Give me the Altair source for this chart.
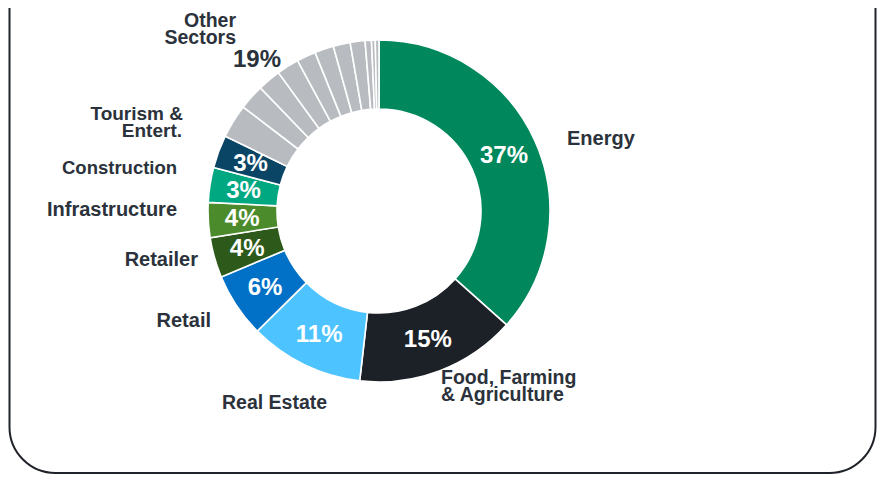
import altair as alt
import pandas as pd

# ---- data ----
categories = [
    "Energy", "Food, Farming & Agriculture", "Real Estate", "Retail", "Retailer",
    "Infrastructure", "Construction", "Tourism & Entert.",
    "Other 1", "Other 2", "Other 3", "Other 4", "Other 5", "Other 6",
    "Other 7", "Other 8", "Other 9", "Other 10", "Other 11",
]
shares = [36.6, 15.2, 10.8, 6.1, 3.8, 3.3, 3.3, 3.1,
          3.2, 2.4, 2.2, 2.1, 1.8, 1.8, 1.6, 1.4, 0.6, 0.35, 0.35]
pct_labels = ["37%", "15%", "11%", "6%", "4%", "4%", "3%", "3%",
              "", "", "", "", "", "", "", "", "", "", ""]
colors = ["#00875B", "#1C2128", "#4DC3FF", "#0071C6", "#2D5A1B",
          "#4B8B2B", "#00A882", "#0B4566"] + ["#B8BCC1"] * 11

# outer label texts (one row per text line)
label_texts = ["Other", "Sectors", "19%", "Energy", "Food, Farming", "& Agriculture",
               "Real Estate", "Retail", "Retailer", "Infrastructure", "Construction",
               "Tourism &", "Entert."]

# ---- layout (page pixels) ----
label_x = [236, 236, 257, 567, 441, 441, 222, 211, 198, 47, 62, 183, 182]
label_y = [27, 44, 67, 145, 384, 401, 409, 327, 266, 216, 174, 120, 137]
label_align = ["right", "right", "center", "left", "left", "left", "left",
               "right", "right", "left", "left", "right", "right"]
label_size = [19.5, 19.5, 24, 20, 19.5, 19.5, 19.5, 20, 20, 20, 18.5, 19, 19]

M = 8  # page margin
CX, CY = 379 - M, 211 - M
W, H = 869, 467
FONT = "Liberation Sans, Arial, sans-serif"
TXT = "#2B323B"

df = pd.DataFrame({
    "category": categories,
    "share": shares,
    "pct": pct_labels,
    "idx": list(range(len(categories))),
})

base = alt.Chart(df).encode(
    theta=alt.Theta("share:Q", stack=True),
    order=alt.Order("idx:Q"),
    x=alt.value(CX),
    y=alt.value(CY),
)

ring = base.mark_arc(radius=171, radius2=102, stroke="white", strokeWidth=1.6).encode(
    color=alt.Color("category:N", scale=alt.Scale(domain=categories, range=colors), legend=None)
)

pct_text = base.mark_text(radius=137, font=FONT, fontWeight="bold", fontSize=24,
                          color="white", baseline="middle", dy=1).encode(
    detail="category:N",
    text="pct:N",
)

lab_df = pd.DataFrame({
    "t": label_texts,
    "x": [v - M for v in label_x],
    "y": [v - M for v in label_y],
    "align": label_align,
    "size": label_size,
})

def lab_layer(align):
    sub = lab_df[lab_df["align"] == align]
    return alt.Chart(sub).mark_text(
        font=FONT, fontWeight="bold", color=TXT, align=align, baseline="alphabetic"
    ).encode(
        x=alt.X("x:Q", scale=None, axis=None),
        y=alt.Y("y:Q", scale=None, axis=None),
        text="t:N",
        size=alt.Size("size:Q", scale=None, legend=None),
    )

frame_df = pd.DataFrame({"x": [1.5], "x2": [W - 1.5], "y": [-80], "y2": [H - 2]})
frame = alt.Chart(frame_df).mark_rect(
    cornerRadius=46, fillOpacity=0, stroke="#1F2329", strokeWidth=2
).encode(
    x=alt.X("x:Q", scale=None, axis=None), x2="x2:Q",
    y=alt.Y("y:Q", scale=None, axis=None), y2="y2:Q",
)

chart = alt.layer(
    frame, ring, pct_text, lab_layer("left"), lab_layer("right"), lab_layer("center")
).properties(
    width=W, height=H, padding=0, autosize=alt.AutoSizeParams(type="none")
).configure_view(stroke=None)

chart.save("out.html", embed_options={"renderer": "svg", "actions": False})
